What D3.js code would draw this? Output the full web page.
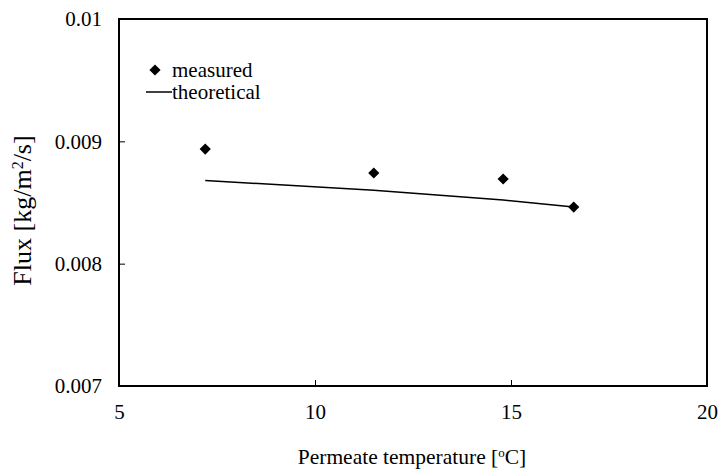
<!DOCTYPE html>
<html>
<head>
  <meta charset="utf-8">
  <title>Flux vs permeate temperature</title>
  <script src="https://d3js.org/d3.v7.min.js"></script>
  <style>
    body { margin: 0; background: #fff; }
    svg text { font-family: "Liberation Serif", "Times New Roman", "DejaVu Serif", serif !important; fill: #000; }
  </style>
</head>
<body>
  <div id="my_dataviz"></div>
</body>

<script>
  // data
  const temperature = [7.2, 11.5, 14.8, 16.6];
  const measured = [0.008937, 0.008741, 0.008692, 0.008463];
  const theoretical = [0.00868, 0.00860, 0.00852, 0.008463];
  const xTicks = [5, 10, 15, 20];
  const yTicks = [0.007, 0.008, 0.009, 0.01];

  const serif = '"Liberation Serif", "Times New Roman", serif';
  const fs = "21px";

  const margin = {top: 19, right: 11, bottom: 86, left: 119},
      width = 718 - margin.left - margin.right,
      height = 472 - margin.top - margin.bottom;

  const svg = d3.select("#my_dataviz")
    .append("svg")
      .attr("width", 718)
      .attr("height", 472)
    .append("g")
      .attr("transform", `translate(${margin.left},${margin.top})`);

  const x = d3.scaleLinear().domain([5, 20]).range([0, width]);
  const y = d3.scaleLinear().domain([0.007, 0.01]).range([height, 0]);

  // X axis, ticks pointing inward
  const xAxis = svg.append("g")
    .attr("transform", `translate(0, ${height})`)
    .call(d3.axisBottom(x).tickValues(xTicks).tickSize(-6).tickPadding(18).tickFormat(d3.format("d")));
  xAxis.select(".domain").remove();
  xAxis.attr("font-family", serif).attr("font-size", fs);

  // Y axis
  const yAxis = svg.append("g")
    .call(d3.axisLeft(y).tickValues(yTicks).tickSize(-6).tickPadding(17).tickFormat(d => +d.toFixed(3) + ""));
  yAxis.select(".domain").remove();
  yAxis.attr("font-family", serif).attr("font-size", fs);

  // frame
  svg.append("rect")
    .attr("width", width)
    .attr("height", height)
    .attr("fill", "none")
    .attr("stroke", "#000")
    .attr("stroke-width", 2);

  // theoretical line
  svg.append("path")
    .datum(temperature.map((t, i) => [t, theoretical[i]]))
    .attr("fill", "none")
    .attr("stroke", "#000")
    .attr("stroke-width", 1.5)
    .attr("d", d3.line().x(d => x(d[0])).y(d => y(d[1])));

  // measured points as diamonds
  const diamond = d3.symbol().type(d3.symbolDiamond2).size(80);
  svg.selectAll(".dot")
    .data(temperature.map((t, i) => [t, measured[i]]))
    .enter()
    .append("path")
      .attr("class", "dot")
      .attr("d", diamond)
      .attr("transform", d => `translate(${x(d[0])},${y(d[1])})`)
      .attr("fill", "#000");

  // legend
  const legend = svg.append("g").attr("transform", "translate(36, 51)")
    .attr("font-family", serif).attr("font-size", fs);
  legend.append("path")
    .attr("d", diamond)
    .attr("fill", "#000");
  legend.append("text").attr("x", 17).attr("y", 7).text("measured");
  legend.append("line")
    .attr("x1", -9).attr("x2", 17).attr("y1", 22).attr("y2", 22)
    .attr("stroke", "#000").attr("stroke-width", 1.5);
  legend.append("text").attr("x", 17).attr("y", 29).text("theoretical");

  // axis titles
  const xt = svg.append("text")
    .attr("x", width / 2 - 1)
    .attr("y", height + 78)
    .attr("text-anchor", "middle")
    .attr("font-family", serif).attr("font-size", "21.5px");
  xt.append("tspan").text("Permeate temperature [");
  xt.append("tspan").attr("baseline-shift", "super").attr("font-size", "13px").text("o");
  xt.append("tspan").text("C]");

  const yt = svg.append("text")
    .attr("transform", `translate(${-88},${height / 2 + 8}) rotate(-90)`)
    .attr("text-anchor", "middle")
    .attr("font-family", serif).attr("font-size", "26px");
  yt.append("tspan").text("Flux [kg/m");
  yt.append("tspan").attr("baseline-shift", "super").attr("font-size", "16px").text("2");
  yt.append("tspan").text("/s]");
</script>

</html>
